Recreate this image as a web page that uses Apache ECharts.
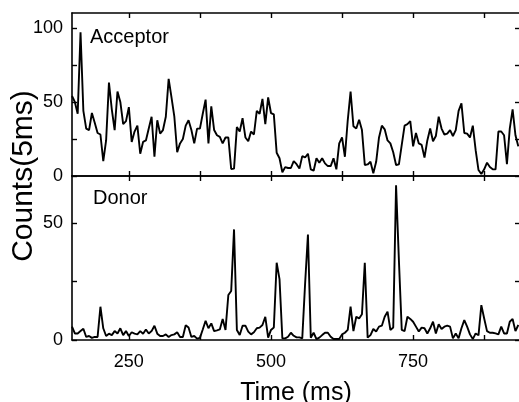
<!DOCTYPE html>
<html>
<head>
<meta charset="utf-8">
<script src="https://cdn.jsdelivr.net/npm/echarts@6/dist/echarts.min.js"></script>
<style>
  html, body { margin: 0; padding: 0; background: #fff; }
  #chart { width: 519px; height: 402px; }
</style>
</head>
<body>
<div id="chart"></div>
<script>
// counts per 5 ms bin, first bin at 150 ms
const timeStart = 150
const timeStep = 5

const acceptor = [
  54, 50, 42, 97, 44, 32, 31, 42.5, 36, 29, 28, 10, 24, 63, 45, 31, 57, 50, 35, 37,
  46.5, 23, 30, 34, 15, 23, 24, 32, 40, 13, 37.6, 28.6, 31, 40, 65.5, 53, 40, 16, 22, 25,
  34, 37.6, 31, 22, 32, 32, 42, 51.5, 22, 47, 31, 27.5, 26.4,
  22, 26, 26, 4.7, 5, 33, 30, 39, 26, 23.5, 30, 28, 44, 42, 52, 35, 53, 42.5, 41.6, 15.7,
  12, 2.5, 6, 5.4, 5.4, 10, 8, 5, 13.4, 12.5, 15, 4.5, 3.6, 12, 9, 12, 8.5, 6.7, 6.7, 12,
  4.5, 22, 26, 13, 37.6, 57, 33.6, 32, 38, 31, 7.4, 7.8, 9.6, 1.8,
  9.6, 26, 34, 31.5, 24, 22, 16, 7.4, 7.8, 21, 34, 35, 37, 20, 29, 22, 21, 12.5, 24, 32,
  23.5, 27, 40, 32, 28, 28.6, 31, 27, 31, 44, 49, 29, 28.6, 26, 34, 17.4, 4, 1.3, 4.5, 9,
  6, 4.5, 4.5, 30, 30, 27.5, 8, 32, 45, 27.5, 20
]

const donor = [
  5.7, 2.8, 2.8, 3.8, 4.8, 1.3, 1.7, 0.9, 1.3, 1.3, 14.2, 5, 1.7, 2.7, 2.1, 3.8, 2.8, 5, 2.1, 3.8,
  1.7, 3.3, 2.7, 2.4, 3.8, 2.7, 4.5, 2.8, 3.8, 6.1, 2.7, 1.7, 1.7, 2.4, 1.3, 2.1, 2.4, 3.3, 1.3, 1.3,
  6.3, 5.3, 1.3, 1.7, 0.6, 0.9, 4.5, 8.2, 5, 7.1, 3.8, 4.1, 4.5,
  9, 4.3, 19.2, 20.9, 47.2, 4.3, 2.1, 6.1, 6.1, 3.6, 2.4, 3.3, 5, 5.3, 6.4, 9.9, 1, 4.3, 5.3, 33,
  26, 0.7, 0.7, 1.4, 3.1, 1.8, 1.1, 1.1, 0.7, 24, 45, 1, 3.1, 0.4, 1, 2.1, 3.1, 3.1, 1.4, 0.4,
  0.4, 0.4, 2.4, 3.1, 4.3, 14.2, 3.8, 9.9, 9.2, 11, 33, 1, 2.1, 4.7,
  3.6, 5.7, 6.1, 9.9, 12.1, 4.3, 5.3, 66, 34, 4.3, 3.8, 9.9, 9, 7.8, 5.7, 3.6, 5.3, 5, 2.8, 5,
  7.8, 2.8, 6.7, 4.7, 5.7, 6.1, 5.7, 0.7, 2.8, 0.7, 5, 8.5, 5.7, 2.4, 0.4, 2.8, 2, 14.9, 9.2, 3.8,
  3.1, 3.1, 2.8, 2.4, 5.7, 2.8, 2.8, 7.8, 9, 3.8, 6.4
]

// axis ticks / labels
const xTicks = [250, 375, 500, 625, 750, 875]
const xLabels = [250, 500, 750]
const accTicks = [0, 25, 50, 75, 100]
const accLabels = [0, 50, 100]
const donTicks = [0, 25, 50]
const donLabels = [0, 50]

const FONT = 'Liberation Sans, Arial, sans-serif'
const black = '#000'

const toPairs = arr => arr.map((v, i) => [timeStart + i * timeStep, v])

// shared axis look: black frame line, short inward ticks
const baseAxis = (ticks, labels, showLabels) => ({
  axisLine: { show: true, onZero: false, lineStyle: { color: black, width: 1.6 } },
  axisTick: { show: true, inside: true, length: 5, customValues: ticks, lineStyle: { color: black, width: 1.4 } },
  axisLabel: {
    show: showLabels,
    customValues: labels,
    color: black,
    fontFamily: FONT,
    fontSize: 18
  },
  splitLine: { show: false }
})

const xAxis = (gridIndex, position, showLabels) => ({
  type: 'value',
  gridIndex,
  position,
  min: 150,
  max: 938,
  ...baseAxis(xTicks, xLabels, showLabels)
})

const yAxis = (gridIndex, position, max, ticks, labels, showLabels) => ({
  type: 'value',
  gridIndex,
  position,
  min: 0,
  max,
  ...baseAxis(ticks, labels, showLabels)
})

const chart = echarts.init(document.getElementById('chart'))

const bottomX = xAxis(1, 'bottom', true)
bottomX.axisLabel.margin = 13
bottomX.name = 'Time (ms)'
bottomX.nameLocation = 'middle'
bottomX.nameGap = 41
bottomX.nameTextStyle = { color: black, fontFamily: FONT, fontSize: 25 }

const leftTop = yAxis(0, 'left', 110, accTicks, accLabels, true)
leftTop.axisLabel.margin = 9
const leftBottom = yAxis(1, 'left', 70, donTicks, donLabels, true)
leftBottom.axisLabel.margin = 9

chart.setOption({
  animation: false,
  backgroundColor: '#fff',
  grid: [
    { left: 72, top: 13, width: 448, height: 163, outerBoundsMode: 'none' },
    { left: 72, top: 176, width: 448, height: 164, outerBoundsMode: 'none' }
  ],
  xAxis: [
    xAxis(0, 'bottom', false),
    xAxis(0, 'top', false),
    bottomX,
    xAxis(1, 'top', false)
  ],
  yAxis: [
    leftTop,
    yAxis(0, 'right', 110, accTicks, accLabels, false),
    leftBottom,
    yAxis(1, 'right', 70, donTicks, donLabels, false)
  ],
  graphic: [
    {
      type: 'text', left: 90, top: 27,
      style: { text: 'Acceptor', font: '20px ' + FONT, fill: black }
    },
    {
      type: 'text', left: 93, top: 188,
      style: { text: 'Donor', font: '20px ' + FONT, fill: black }
    },
    {
      type: 'text', x: 24, y: 176, rotation: Math.PI / 2,
      style: { text: 'Counts(5ms)', font: '30px ' + FONT, fill: black, align: 'center', verticalAlign: 'middle' }
    }
  ],
  series: [
    {
      name: 'Acceptor',
      type: 'line',
      xAxisIndex: 0,
      yAxisIndex: 0,
      data: toPairs(acceptor),
      showSymbol: false,
      lineStyle: { color: black, width: 1.9 }
    },
    {
      name: 'Donor',
      type: 'line',
      xAxisIndex: 2,
      yAxisIndex: 2,
      data: toPairs(donor),
      showSymbol: false,
      lineStyle: { color: black, width: 1.9 }
    }
  ]
})
</script>
</body>
</html>
